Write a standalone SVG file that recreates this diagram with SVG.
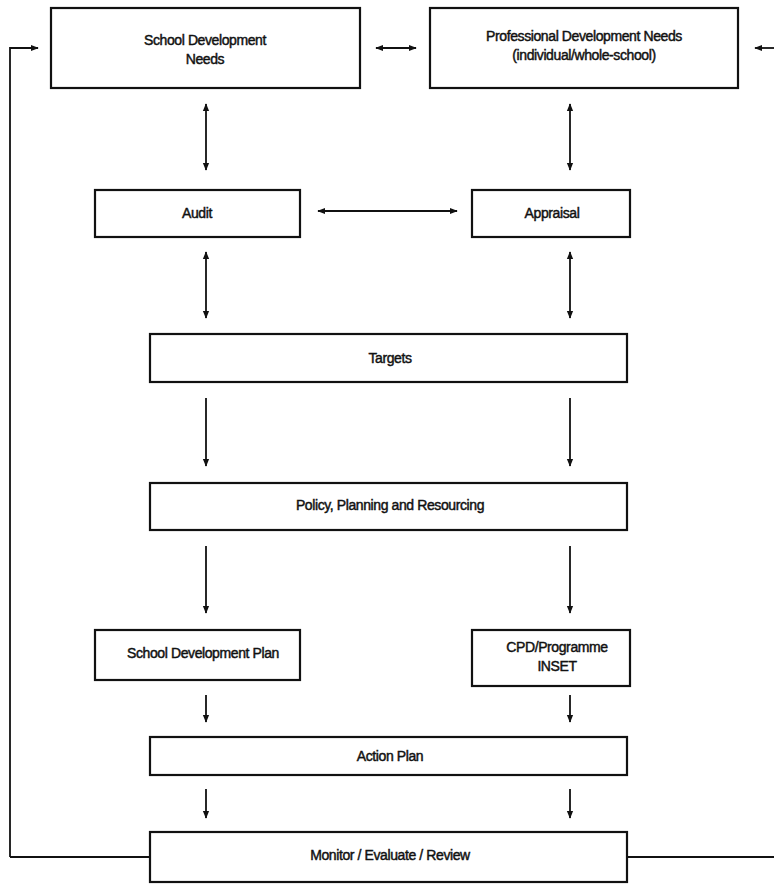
<svg xmlns="http://www.w3.org/2000/svg" width="774" height="884" viewBox="0 0 774 884">
<style>
.box{fill:#fff;stroke:#111;stroke-width:2.2}
.t{font-family:"Liberation Sans",Arial,sans-serif;font-size:14px;fill:#111;stroke:#111;stroke-width:0.45;text-anchor:middle;letter-spacing:-0.4px}
.c{stroke:#111;stroke-width:1.8;fill:none}
.a{marker-end:url(#ah)}
.b{marker-start:url(#ahs);marker-end:url(#ah)}
</style>
<defs>
<marker id="ah" viewBox="0 0 10 10" refX="9" refY="5" markerWidth="4.5" markerHeight="4.5" orient="auto"><path d="M0,1 L10,5 L0,9 z" fill="#111"/></marker>
<marker id="ahs" viewBox="0 0 10 10" refX="1" refY="5" markerWidth="4.5" markerHeight="4.5" orient="auto"><path d="M10,1 L0,5 L10,9 z" fill="#111"/></marker>
</defs>
<rect width="774" height="884" fill="#fff"/>
<g id="connectors">
<path class="c a" d="M10,857 L10,48 L38,48"/>
<path class="c a" d="M774,48 L755,48"/>
<path class="c b" d="M376,48 L416,48"/>
<path class="c b" d="M206,104 L206,170"/>
<path class="c b" d="M570,104 L570,170"/>
<path class="c b" d="M318,211 L457,211"/>
<path class="c b" d="M206,252 L206,318"/>
<path class="c b" d="M570,252 L570,318"/>
<path class="c a" d="M206,398 L206,466"/>
<path class="c a" d="M570,398 L570,466"/>
<path class="c a" d="M206,546 L206,613"/>
<path class="c a" d="M570,546 L570,613"/>
<path class="c a" d="M206,695 L206,722"/>
<path class="c a" d="M570,695 L570,722"/>
<path class="c a" d="M206,789 L206,818"/>
<path class="c a" d="M570,789 L570,818"/>
<path class="c" d="M150,857 L10,857"/>
<path class="c" d="M627,857 L774,857"/>
</g>
<g id="school-needs"><rect class="box" x="51" y="8" width="309" height="80"/><text class="t" x="205" y="45">School Development</text><text class="t" x="205" y="64">Needs</text></g>
<g id="prof-needs"><rect class="box" x="430" y="8" width="308" height="80"/><text class="t" x="584" y="41">Professional Development Needs</text><text class="t" x="584" y="60">(individual/whole-school)</text></g>
<g id="audit"><rect class="box" x="95" y="190" width="205" height="47"/><text class="t" x="197" y="218">Audit</text></g>
<g id="appraisal"><rect class="box" x="472" y="190" width="158" height="47"/><text class="t" x="552" y="218">Appraisal</text></g>
<g id="targets"><rect class="box" x="150" y="334" width="477" height="48"/><text class="t" x="390" y="363">Targets</text></g>
<g id="policy"><rect class="box" x="150" y="483" width="477" height="47"/><text class="t" x="390" y="510">Policy, Planning and Resourcing</text></g>
<g id="sdp"><rect class="box" x="95" y="630" width="205" height="50"/><text class="t" x="203" y="658">School Development Plan</text></g>
<g id="cpd"><rect class="box" x="472" y="630" width="158" height="56"/><text class="t" x="557" y="652">CPD/Programme</text><text class="t" x="557" y="671">INSET</text></g>
<g id="action"><rect class="box" x="150" y="737" width="477" height="38"/><text class="t" x="390" y="761">Action Plan</text></g>
<g id="monitor"><rect class="box" x="150" y="832" width="477" height="50"/><text class="t" x="390" y="860">Monitor / Evaluate / Review</text></g>
</svg>
